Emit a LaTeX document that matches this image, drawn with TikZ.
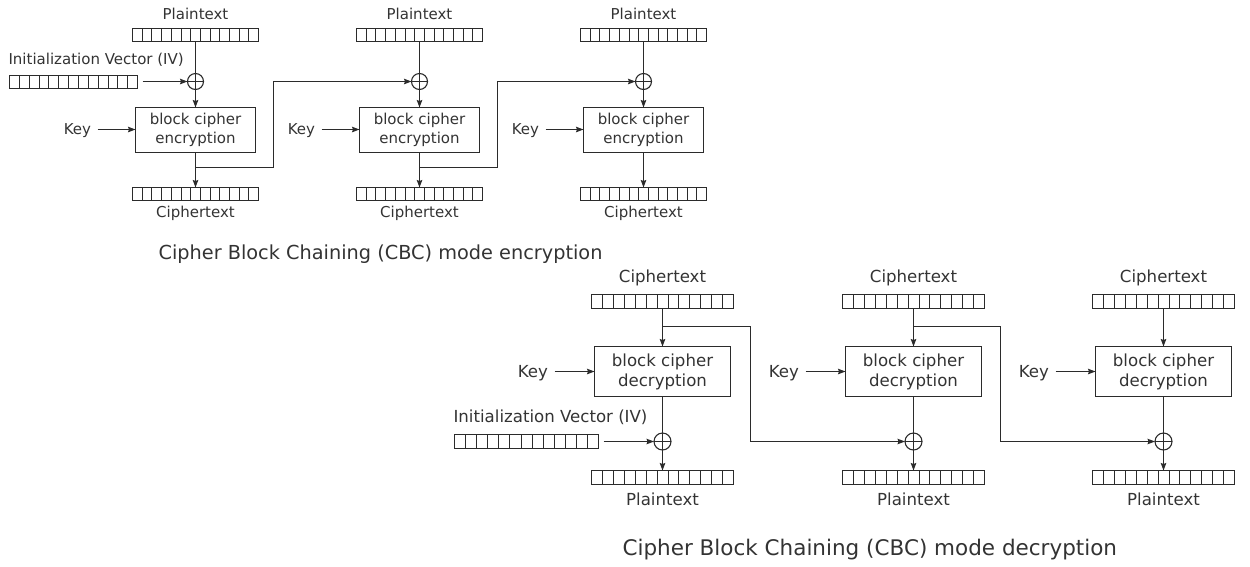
\documentclass[tikz,border=0pt]{standalone}
\usepackage{fontspec}
\setmainfont{DejaVu Sans}
\usetikzlibrary{arrows.meta,calc}
\definecolor{ink}{HTML}{2B2B2B}
\definecolor{txt}{HTML}{333333}
\newcommand\regcells[1]{\foreach \k in {1,...,12}{\draw[line width=0.9pt] ($(#1.north west)!\k/13!(#1.north east)$) -- ($(#1.south west)!\k/13!(#1.south east)$);}}
\begin{document}
\begin{tikzpicture}[x=1pt,y=-1pt,color=ink,line width=1.1pt,
  arr/.style={-{Stealth[length=7.5pt,width=5.5pt,inset=1pt]}},
  labT/.style={text=txt,inner sep=0pt,text depth=0pt,font=\fontsize{15}{18}\selectfont},
  labB/.style={text=txt,inner sep=0pt,text depth=0pt,font=\fontsize{16.6}{20}\selectfont},
  regT/.style={draw,line width=0.9pt,rectangle,inner sep=0pt,outer sep=0pt,minimum width=126pt,minimum height=13pt},
  regB/.style={draw,line width=0.9pt,rectangle,inner sep=0pt,outer sep=0pt,minimum width=142pt,minimum height=14pt},
  boxT/.style={draw,rectangle,inner sep=0pt,outer sep=0pt,minimum width=120pt,minimum height=45pt,align=center,text=txt,font=\fontsize{15}{18.4}\selectfont},
  boxB/.style={draw,rectangle,inner sep=0pt,outer sep=0pt,minimum width=136pt,minimum height=50pt,align=center,text=txt,font=\fontsize{16.6}{20}\selectfont},
  xorbase/.style={draw,circle,inner sep=0pt,outer sep=0pt,path picture={\draw (path picture bounding box.north) -- (path picture bounding box.south) (path picture bounding box.west) -- (path picture bounding box.east);}},
  xorT/.style={xorbase,minimum size=16pt},
  xorB/.style={xorbase,minimum size=17pt},
  title/.style={text=txt,inner sep=0pt,text depth=0pt,anchor=west}
]
\useasboundingbox (0,0) rectangle (1250,566);
% ---------------- Encryption ----------------
\foreach \i/\x in {1/195.5,2/419.5,3/643.5}{
  \node[labT] (ptl\i) at (\x,14) {Plaintext};
  \node[regT] (pt\i) at (\x,35) {};
  \regcells{pt\i}
  \node[xorT] (x\i) at (\x,81.5) {};
  \node[boxT] (b\i) at (\x,130) {block cipher\\encryption};
  \node[labT,anchor=east] (k\i) at (\x-104,129.5) {Key};
  \node[regT] (ct\i) at (\x,194) {};
  \regcells{ct\i}
  \node[labT] (ctl\i) at (\x,211.5) {Ciphertext};
  \draw (pt\i) -- (x\i);
  \draw[arr] (x\i) -- (b\i);
  \draw[arr,shorten <=6pt] (k\i.east) -- (k\i.east -| b\i.west);
  \draw[arr] (b\i) -- (ct\i);
}
\node[labT,anchor=west] (ivlT) at (8,59) {Initialization Vector (IV)};
\node[regT,minimum width=128pt] (ivT) at (73.5,81.5) {};
\regcells{ivT}
\draw[arr,shorten <=5pt] (ivT.east) -- (x1.west);
\coordinate (j1) at (195.5,167.5);
\coordinate (t1) at (273.5,167.5);
\draw[arr] (j1) -- (t1) |- (x2.west);
\coordinate (j2) at (419.5,167.5);
\coordinate (t2) at (497.5,167.5);
\draw[arr] (j2) -- (t2) |- (x3.west);
\node[title,font=\fontsize{19.3}{23}\selectfont] (titleE) at (158,252) {Cipher Block Chaining (CBC) mode encryption};
% ---------------- Decryption ----------------
\foreach \i/\x in {1/662.5,2/913.5,3/1163.5}{
  \node[labB] (dctl\i) at (\x,276.5) {Ciphertext};
  \node[regB] (dct\i) at (\x,301.5) {};
  \regcells{dct\i}
  \node[boxB] (db\i) at (\x,371.5) {block cipher\\decryption};
  \node[labB,anchor=east] (dk\i) at (\x-114,371.5) {Key};
  \node[xorB] (dx\i) at (\x,441.5) {};
  \node[regB] (dpt\i) at (\x,477.5) {};
  \regcells{dpt\i}
  \node[labB] (dptl\i) at (\x,499) {Plaintext};
  \draw[arr] (dct\i) -- (db\i);
  \draw[arr,shorten <=6pt] (dk\i.east) -- (dk\i.east -| db\i.west);
  \draw (db\i) -- (dx\i);
  \draw[arr] (dx\i) -- (dpt\i);
}
\node[labB,anchor=west] (ivlB) at (453,416) {Initialization Vector (IV)};
\node[regB,minimum width=144pt] (ivB) at (526.5,441.5) {};
\regcells{ivB}
\draw[arr,shorten <=5pt] (ivB.east) -- (dx1.west);
\coordinate (dj1) at (662.5,326.5);
\coordinate (dt1) at (750.5,326.5);
\draw[arr] (dj1) -- (dt1) |- (dx2.west);
\coordinate (dj2) at (913.5,326.5);
\coordinate (dt2) at (1000.5,326.5);
\draw[arr] (dj2) -- (dt2) |- (dx3.west);
\node[title,font=\fontsize{21.5}{26}\selectfont] (titleD) at (622,547) {Cipher Block Chaining (CBC) mode decryption};
\end{tikzpicture}
\end{document}
